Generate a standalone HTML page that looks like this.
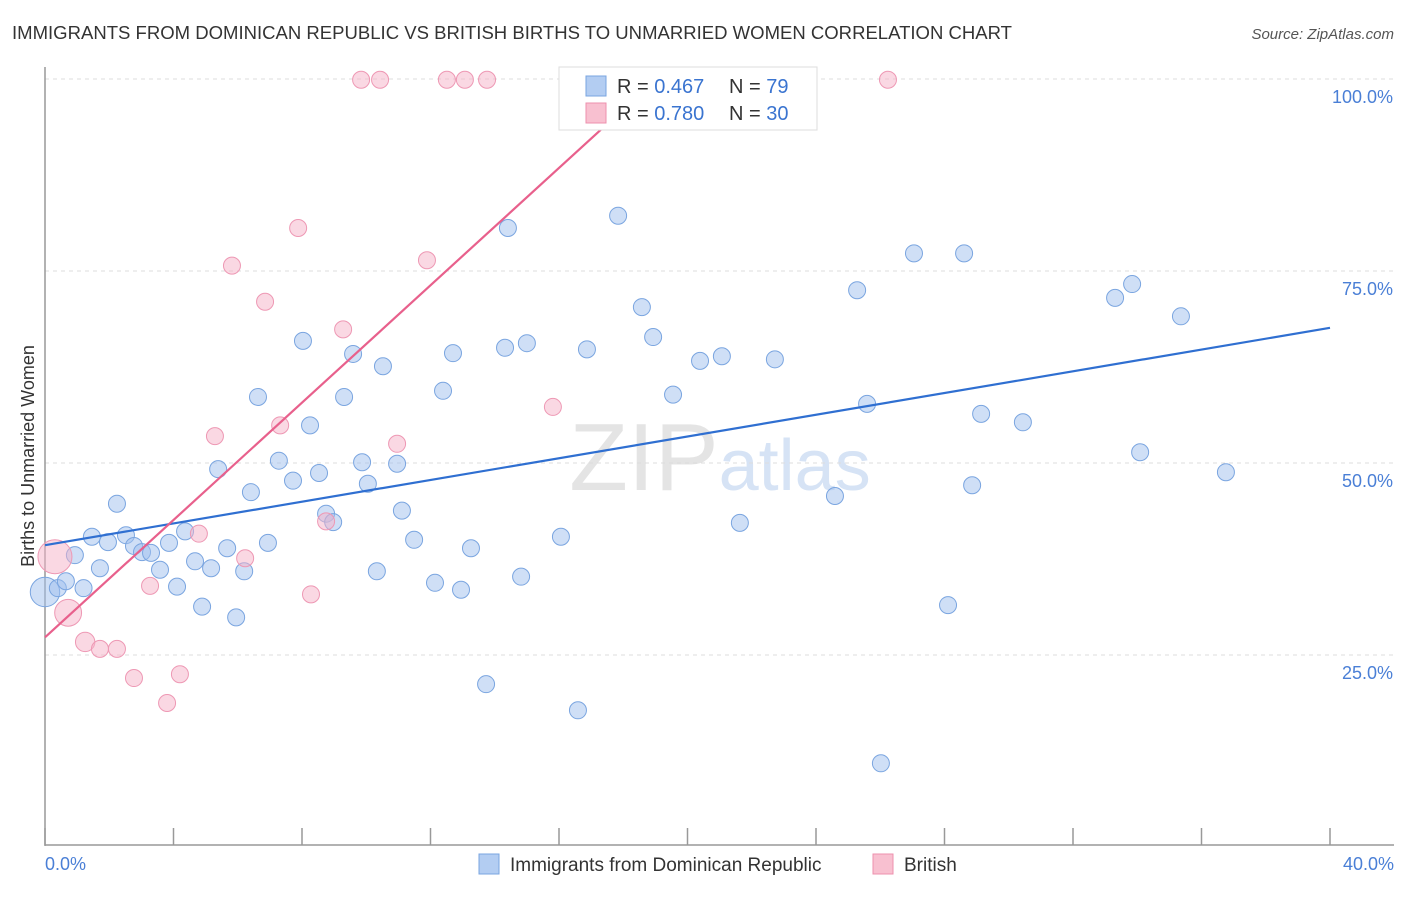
<!DOCTYPE html>
<html><head><meta charset="utf-8"><style>
body{margin:0;background:#fff;font-family:"Liberation Sans",sans-serif;}
svg text{font-family:"Liberation Sans",sans-serif;}
</style></head><body>
<svg id="chart" width="1406" height="892" viewBox="0 0 1406 892">
<text x="12" y="39" font-size="18" fill="#333" textLength="1000" lengthAdjust="spacingAndGlyphs">IMMIGRANTS FROM DOMINICAN REPUBLIC VS BRITISH BIRTHS TO UNMARRIED WOMEN CORRELATION CHART</text>
<text x="1394" y="39" font-size="15" fill="#555" font-style="italic" text-anchor="end">Source: ZipAtlas.com</text>
<text x="720" y="490" font-size="96" fill="#e4e4e4" text-anchor="middle" font-family="Liberation Serif">ZIP<tspan fill="#d6e3f5" font-family="Liberation Sans" font-size="72">atlas</tspan></text>
<g id="grid"></g>
<line x1="45" y1="67" x2="45" y2="846" stroke="#999" stroke-width="1.5"/>
<line x1="45" y1="845" x2="1394" y2="845" stroke="#999" stroke-width="1.5"/>
<g id="ticks"></g>
<text transform="translate(34,456) rotate(-90)" font-size="18" fill="#333" text-anchor="middle">Births to Unmarried Women</text>
<text x="45" y="870" font-size="18" fill="#4a7fd6">0.0%</text>
<text x="1394" y="870" font-size="18" fill="#4a7fd6" text-anchor="end">40.0%</text>
<g id="marks"></g>
<g>
<rect x="559" y="67" width="258" height="63" fill="#fff" stroke="#ddd"/>
<rect x="586" y="76" width="20" height="20" fill="#b3cdf2" stroke="#7aa5e0"/>
<rect x="586" y="103" width="20" height="20" fill="#f8c0d0" stroke="#ee90ae"/>
<text x="617" y="93" font-size="20" fill="#333">R = <tspan fill="#3a74d0">0.467</tspan></text>
<text x="729" y="93" font-size="20" fill="#333">N = <tspan fill="#3a74d0">79</tspan></text>
<text x="617" y="120" font-size="20" fill="#333">R = <tspan fill="#3a74d0">0.780</tspan></text>
<text x="729" y="120" font-size="20" fill="#333">N = <tspan fill="#3a74d0">30</tspan></text>
</g>
<g>
<rect x="479" y="854" width="20" height="20" fill="#b3cdf2" stroke="#7aa5e0"/>
<text x="510" y="871" font-size="19" fill="#333">Immigrants from Dominican Republic</text>
<rect x="873" y="854" width="20" height="20" fill="#f8c0d0" stroke="#ee90ae"/>
<text x="904" y="871" font-size="19" fill="#333">British</text>
</g>
</svg>
<script>
const yTicks=[25,50,75,100];
const yTickLabels=["25.0%","50.0%","75.0%","100.0%"];
const xTicks=[0,4,8,12,16,20,24,28,32,36,40];
const blueX=[0,0.4,0.65,0.93,1.2,1.46,1.71,1.96,2.24,2.52,2.77,3.02,3.3,3.58,3.86,4.11,4.36,4.67,4.89,5.17,5.39,5.67,5.95,6.2,6.41,6.63,6.94,7.28,7.72,8.03,8.25,8.53,8.75,8.97,9.31,9.59,9.87,10.05,10.33,10.52,10.96,11.11,11.49,12.14,12.39,12.7,12.95,13.26,13.73,14.32,14.41,14.82,15.0,16.06,16.59,16.87,17.84,18.58,18.93,19.55,20.39,21.07,21.63,22.72,24.59,25.28,25.59,26.02,27.05,28.11,28.61,28.86,29.14,30.44,33.31,33.84,34.09,35.36,36.76];
const blueY=[33.2,33.7,34.6,38.0,33.7,40.4,36.3,39.7,44.7,40.6,39.2,38.4,38.3,36.1,39.6,33.9,41.1,37.2,31.3,36.3,49.2,38.9,29.9,35.9,46.2,58.6,39.6,50.3,47.7,65.9,54.9,48.7,43.4,42.3,58.6,64.2,50.1,47.3,35.9,62.6,49.9,43.8,40.0,34.4,59.4,64.3,33.5,38.9,21.2,65.0,80.6,35.2,65.6,40.4,17.8,64.8,82.2,70.3,66.4,58.9,63.3,63.9,42.2,63.5,45.7,72.5,57.7,10.9,77.3,31.5,77.3,47.1,56.4,55.3,71.5,73.3,51.4,69.1,48.8];
const blueW=[3].concat(Array(78).fill(1));
const pinkX=[0.31,0.72,1.25,1.71,2.24,2.77,3.27,3.8,4.2,4.79,5.29,5.82,6.23,6.85,7.32,7.88,8.28,8.75,9.28,9.84,10.43,10.96,11.89,12.51,13.07,13.76,15.81,19.14,26.24];
const pinkY=[37.8,30.5,26.7,25.8,25.8,22.0,34.0,18.75,22.5,40.8,53.5,75.7,37.6,71.0,54.9,80.6,32.9,42.4,67.4,99.9,99.9,52.5,76.4,99.9,99.9,99.9,57.3,99.9,99.9];
const pinkW=[4,2.5,1.3].concat(Array(26).fill(1));
const blueTrend=[39.3,67.6];
const pinkTrend=[27.3,3.82];
const NS="http://www.w3.org/2000/svg";
const sx=v=>45+v*32.125, sy=v=>847-v*7.68;
function mk(t,a,p){const e=document.createElementNS(NS,t);for(const k in a)e.setAttribute(k,a[k]);p.appendChild(e);return e;}
const grid=document.getElementById('grid'),ticks=document.getElementById('ticks'),marks=document.getElementById('marks');
yTicks.forEach((v,i)=>{
 const l=mk('line',{x1:45,x2:1394,y1:sy(v),y2:sy(v),stroke:'#ddd','stroke-dasharray':'4,4'},grid);
 
 
 const t=mk('text',{x:1393,y:sy(v)+24,'font-size':18,fill:'#4a7fd6','text-anchor':'end'},grid);
 t.textContent=yTickLabels[i];
 
 
});
xTicks.forEach(v=>{
 const l=mk('line',{x1:sx(v),x2:sx(v),y1:828,y2:845,stroke:'#999','stroke-width':1.5},ticks);
 
 
});
blueX.forEach((x,i)=>{
 const c=mk('circle',{cx:sx(x),cy:sy(blueY[i]),r:8.5*Math.sqrt(blueW[i]),fill:'rgba(160,192,238,0.5)',stroke:'#7aa5e0','stroke-width':1},marks);
 
 
});
pinkX.forEach((x,i)=>{
 const c=mk('circle',{cx:sx(x),cy:sy(pinkY[i]),r:8.5*Math.sqrt(pinkW[i]),fill:'rgba(246,178,200,0.5)',stroke:'#ee98b4','stroke-width':1},marks);
 
 
});
const bl=mk('line',{x1:sx(0),y1:sy(blueTrend[0]),x2:sx(40),y2:sy(blueTrend[1]),stroke:'#2f6fd1','stroke-width':2.2},marks);


const xe=(101-pinkTrend[0])/pinkTrend[1];
const pl=mk('line',{x1:sx(0),y1:sy(pinkTrend[0]),x2:sx(xe),y2:sy(pinkTrend[0]+pinkTrend[1]*xe),stroke:'#e8608c','stroke-width':2.2},marks);


</script>
</body></html>
